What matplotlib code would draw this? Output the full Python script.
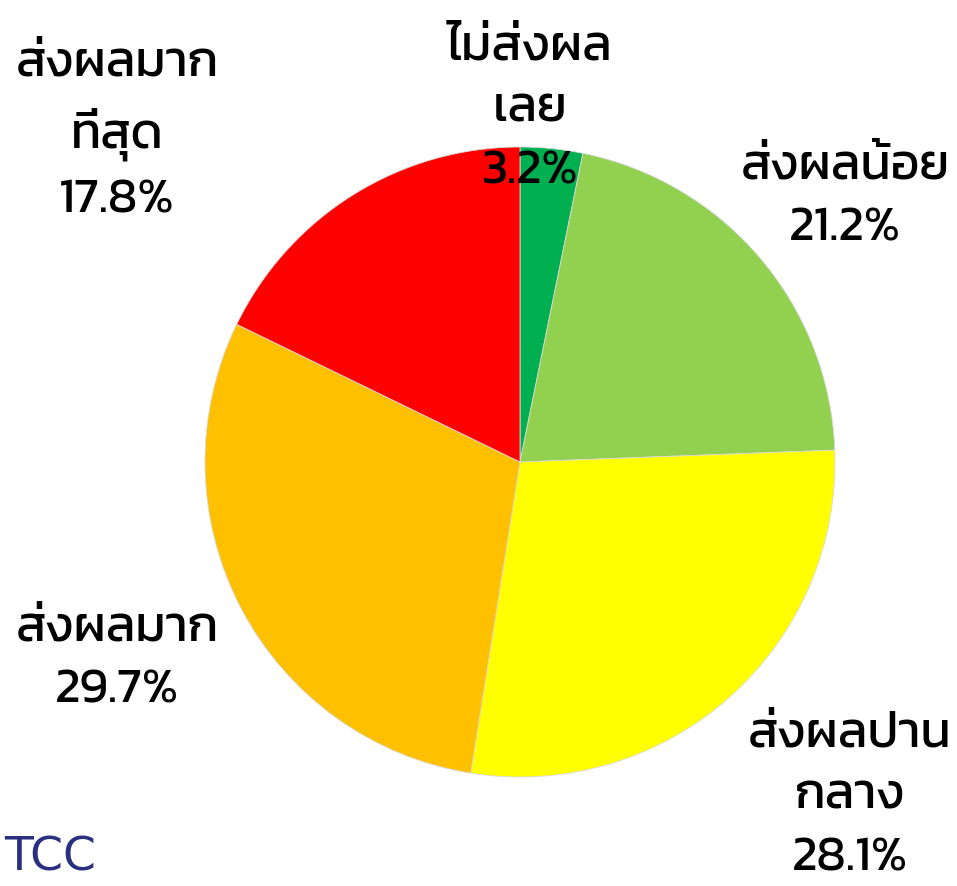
import matplotlib
matplotlib.use("Agg")
import matplotlib.pyplot as plt

labels = ["ไม่ส่งผล\nเลย", "ส่งผลน้อย", "ส่งผลปาน\nกลาง", "ส่งผลมาก", "ส่งผลมาก\nที่สุด"]
values = [3.2, 21.2, 28.1, 29.7, 17.8]
colors = ["#00B050", "#92D050", "#FFFF00", "#FFC000", "#FF0000"]

plt.rcParams["font.family"] = ["Kanit", "DejaVu Sans"]

W, H = 957, 887
fig = plt.figure(figsize=(W / 100, H / 100), dpi=100)
cx, cy, r = 520, 463, 315
ax = fig.add_axes([(cx - r) / W, (H - cy - r) / H, 2 * r / W, 2 * r / H])
ax.pie(values, colors=colors, startangle=90, counterclock=False,
       wedgeprops=dict(edgecolor="#d8d8d8", linewidth=0.6))
ax.set_xlim(-1, 1)
ax.set_ylim(-1, 1)
ax.set_aspect("equal")
ax.axis("off")

pos = [(530, 110), (845, 198), (850, 797), (117, 660), (117, 132)]
for lab, v, (px, py) in zip(labels, values, pos):
    fig.text(px / W, 1 - py / H, f"{lab}\n{v}%", ha="center", va="center",
             fontsize=36, fontweight="normal", linespacing=1.55, color="black")

fig.text(4 / W, 1 - 858 / H, "TCC", fontsize=34, color="#2B2F7F", ha="left", va="center",
         family="DejaVu Sans")
fig.savefig("out.png", dpi=100)
